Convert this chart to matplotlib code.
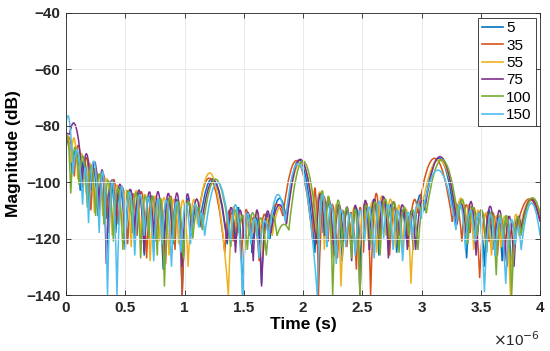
import matplotlib

matplotlib.use('Agg')
import matplotlib.pyplot as plt
from matplotlib.path import Path
from matplotlib.patches import PathPatch
from matplotlib.lines import Line2D
from matplotlib.ticker import FuncFormatter

plt.rcParams['font.family'] = ['Liberation Sans', 'DejaVu Sans']

# each series: null times (us), null levels (dB), lobe peak levels (dB) between nulls
LABELS = ['5', '35', '55', '75', '100', '150']
COLORS = ['#0072BD', '#D95319', '#EDB120', '#7E2F8E', '#77AC30', '#4DBEEE']

T5 = [0.00, 0.05, 0.12, 0.19, 0.27, 0.34, 0.42, 0.50, 0.58, 0.66, 0.74, 0.82, 0.90, 0.98, 1.06, 1.13,
      1.36, 1.43, 1.49, 1.57, 1.65, 1.72, 1.86, 2.10, 2.17, 2.25, 2.33, 2.41, 2.49, 2.56, 2.64, 2.71,
      2.79, 2.87, 2.93, 3.02, 3.29, 3.38, 3.45, 3.53, 3.60, 3.68, 3.76, 3.83, 4.00]
D5 = [-88, -97, -103, -108, -112, -113, -118, -124, -120, -126, -125, -131, -122, -140, -118, -114,
      -122, -120, -140, -125, -136, -120, -113, -125, -118, -122, -128, -124, -130, -123, -126, -118,
      -125, -120, -124, -110, -116, -127, -120, -130, -124, -128, -132, -118, -113]
P5 = [-86, -89, -92, -95, -98, -100, -102, -103, -104, -105, -106, -106, -107, -107, -109, -99,
      -111, -110, -112, -113, -112, -106, -92.5, -104, -107, -109, -110, -109, -108, -106, -106, -108,
      -110, -112, -105.5, -91.5, -107, -109, -111, -110, -112, -113, -114, -106.5]

T35 = [0.00, 0.07, 0.14, 0.21, 0.28, 0.36, 0.44, 0.52, 0.60, 0.68, 0.76, 0.84, 0.92, 0.98, 1.06, 1.11,
       1.34, 1.41, 1.48, 1.55, 1.63, 1.70, 1.83, 2.08, 2.13, 2.21, 2.29, 2.37, 2.45, 2.51, 2.57, 2.65,
       2.73, 2.81, 2.89, 2.97, 3.26, 3.34, 3.41, 3.49, 3.57, 3.64, 3.72, 3.80, 4.00]
D35 = [-87, -98, -102, -110, -109, -118, -115, -122, -119, -127, -121, -129, -124, -140, -117, -113,
       -125, -121, -127, -119, -128, -117, -112, -120, -140, -121, -127, -123, -131, -125, -140, -120,
       -126, -119, -123, -111, -114, -121, -118, -134, -121, -126, -130, -117, -114]
P35 = [-85, -87, -91.5, -95, -97.5, -99, -102, -104, -103.5, -105, -106, -105, -107, -108, -108, -99,
       -110, -112, -110, -113, -112, -108, -92.5, -103, -106, -108, -110, -111, -109, -108, -105, -106,
       -109, -110, -107, -91.5, -108, -108, -110, -112, -111, -114, -116, -106]

T55 = [0.00, 0.04, 0.10, 0.17, 0.24, 0.31, 0.39, 0.47, 0.55, 0.63, 0.71, 0.79, 0.87, 0.95, 1.03, 1.11,
       1.37, 1.44, 1.51, 1.58, 1.66, 1.74, 1.86, 2.11, 2.18, 2.25, 2.32, 2.40, 2.47, 2.55, 2.62, 2.70,
       2.78, 2.84, 2.91, 2.99, 3.30, 3.37, 3.44, 3.51, 3.59, 3.67, 3.75, 3.82, 4.00]
D55 = [-86, -93, -99, -104, -111, -112, -119, -116, -123, -120, -128, -121, -126, -122, -130, -115,
       -140, -119, -124, -118, -127, -119, -114, -118, -124, -127, -137, -122, -128, -121, -125, -119,
       -123, -125, -136, -112, -112, -119, -124, -120, -126, -123, -140, -119, -112]
P55 = [-84, -84.5, -90, -93.5, -97, -99, -101, -103, -103, -104.5, -105, -105.5, -106, -106.5, -107, -98,
       -110, -111, -112, -111, -113, -109, -93, -103.5, -106, -108, -110, -109, -108, -107, -105, -106,
       -108, -110, -111, -92, -106, -108, -110, -111, -112, -113, -113, -106]

T75 = [0.00, 0.03, 0.14, 0.21, 0.28, 0.34, 0.42, 0.50, 0.58, 0.66, 0.74, 0.82, 0.90, 0.98, 1.06, 1.14,
       1.36, 1.43, 1.50, 1.58, 1.65, 1.73, 1.86, 2.11, 2.18, 2.26, 2.34, 2.41, 2.48, 2.56, 2.64, 2.72,
       2.80, 2.88, 2.95, 3.03, 3.30, 3.38, 3.46, 3.54, 3.62, 3.70, 3.78, 3.84, 4.00]
D75 = [-82.5, -83, -99, -103, -110, -129, -112, -120, -117, -125, -119, -127, -121, -130, -119, -116,
       -121, -125, -120, -128, -137, -118, -115, -122, -119, -126, -121, -128, -140, -124, -122, -127,
       -121, -124, -124, -109, -115, -120, -126, -121, -123, -128, -130, -117, -114]
P75 = [-82.8, -80.5, -90, -93, -96.5, -100, -101, -102.5, -103, -103.5, -103.5, -104, -104, -104.5, -106, -99.5,
       -109, -110, -111, -110, -111.5, -108, -92, -104, -106, -108, -109, -108.5, -107, -106, -105, -107,
       -108, -110, -108, -91, -108, -107, -110, -108.5, -110, -112, -113, -106]

T100 = [0.00, 0.04, 0.11, 0.18, 0.25, 0.32, 0.40, 0.48, 0.56, 0.63, 0.70, 0.77, 0.83, 0.91, 0.99, 1.07,
        1.15, 1.39, 1.46, 1.53, 1.61, 1.69, 1.78, 1.88, 2.13, 2.19, 2.25, 2.33, 2.41, 2.48, 2.57, 2.65,
        2.73, 2.81, 2.89, 2.97, 3.04, 3.31, 3.39, 3.47, 3.55, 3.63, 3.69, 3.76, 3.84, 4.00]
D100 = [-86, -104, -101, -109, -112, -115, -121, -124, -118, -127, -120, -126, -137, -121, -127, -120,
        -117, -123, -118, -124, -119, -126, -119, -117, -122, -119, -140, -123, -127, -140, -122, -126,
        -120, -125, -119, -124, -111, -113, -122, -119, -125, -133, -121, -140, -119, -111]
P100 = [-85.5, -87.5, -91, -94, -97, -99.5, -102, -103, -104, -105, -105, -106, -106, -107, -107, -109,
        -99, -110, -112, -111, -113, -112, -115, -92.5, -103, -106, -107, -109, -110, -109, -107, -106,
        -107, -109, -110, -108, -92, -106.5, -109, -110, -111, -112, -113, -114, -106]

T150 = [0.00, 0.06, 0.14, 0.19, 0.28, 0.35, 0.43, 0.50, 0.58, 0.66, 0.74, 0.81, 0.89, 0.97, 1.05, 1.12,
        1.17, 1.39, 1.49, 1.56, 1.63, 1.71, 1.85, 2.12, 2.20, 2.28, 2.36, 2.44, 2.52, 2.60, 2.68, 2.76,
        2.84, 2.92, 3.00, 3.29, 3.37, 3.45, 3.53, 3.62, 3.71, 3.79, 3.84, 4.00]
D150 = [-79, -97, -108, -114.5, -118, -140, -140, -121, -126, -119, -128, -122, -130, -125, -122, -116,
        -119, -121, -140, -122, -127, -120, -114, -140, -123, -129, -123, -126, -121, -127, -120, -124,
        -128, -120, -113, -117, -124, -121, -139, -126, -136, -122, -124, -119]
P150 = [-78.5, -89, -95, -92.5, -97, -99.5, -102, -103.5, -104.5, -105.5, -106, -106.5, -107, -107.5, -108, -111,
        -100, -109, -112, -113, -114, -104.5, -94.6, -105, -108, -110, -111, -110, -109, -107, -108, -110,
        -111, -108, -95.7, -108, -110, -112, -112, -113, -114, -116, -107.5]

SERIES = [(T5, D5, P5), (T35, D35, P35), (T55, D55, P55),
          (T75, D75, P75), (T100, D100, P100), (T150, D150, P150)]


def lobe_path(ts, ds, ps):
    # each lobe is a quadratic curve from null to null whose top reaches the peak level
    verts = [(ts[0], ds[0])]
    codes = [Path.MOVETO]
    for i in range(len(ps)):
        xc = (ts[i] + ts[i + 1]) / 2
        yc = 2 * ps[i] - (ds[i] + ds[i + 1]) / 2
        verts += [(xc, yc), (ts[i + 1], ds[i + 1])]
        codes += [Path.CURVE3, Path.CURVE3]
    return Path(verts, codes)


fig = plt.figure(figsize=(5.5, 3.51), dpi=100)
ax = fig.add_axes([0.12, 0.1595, 0.862, 0.8035])

for (ts, ds, ps), c in zip(SERIES, COLORS):
    ax.add_patch(PathPatch(lobe_path(ts, ds, ps), fill=False, edgecolor=c, lw=1.1))

ax.set_xlim(0, 4)
ax.set_ylim(-140, -40)
ax.set_xticks([0, 0.5, 1, 1.5, 2, 2.5, 3, 3.5, 4])
ax.set_yticks([-140, -120, -100, -80, -60, -40])
ax.xaxis.set_major_formatter(FuncFormatter(lambda v, p: '%g' % v))
ax.grid(True, color='#e6e6e6', lw=0.6)
ax.tick_params(direction='in', top=True, right=True, length=3.5, width=0.6,
               labelsize=11, colors='#262626', pad=4)
for lab in ax.get_xticklabels() + ax.get_yticklabels():
    lab.set_fontweight('bold')
for s in ax.spines.values():
    s.set_color('#262626')
    s.set_linewidth(0.6)

ax.set_xlabel('Time (s)', fontsize=12.5, fontweight='bold', labelpad=2)
ax.set_ylabel('Magnitude (dB)', fontsize=12.5, fontweight='bold', labelpad=4)
ax.text(1.0, -0.19, r'$\times$10$^{-6}$', transform=ax.transAxes, ha='right', va='bottom',
        fontsize=11, color='#262626')

handles = [Line2D([], [], color=c, lw=1.2) for c in COLORS]
leg = ax.legend(handles, LABELS, loc='upper right', fontsize=11, fancybox=False, framealpha=1,
                edgecolor='#262626', handlelength=1.4, handletextpad=0.2, borderpad=0.25,
                labelspacing=0.22, borderaxespad=0.3)
leg.get_frame().set_linewidth(0.6)

fig.savefig('out.png', dpi=100)
